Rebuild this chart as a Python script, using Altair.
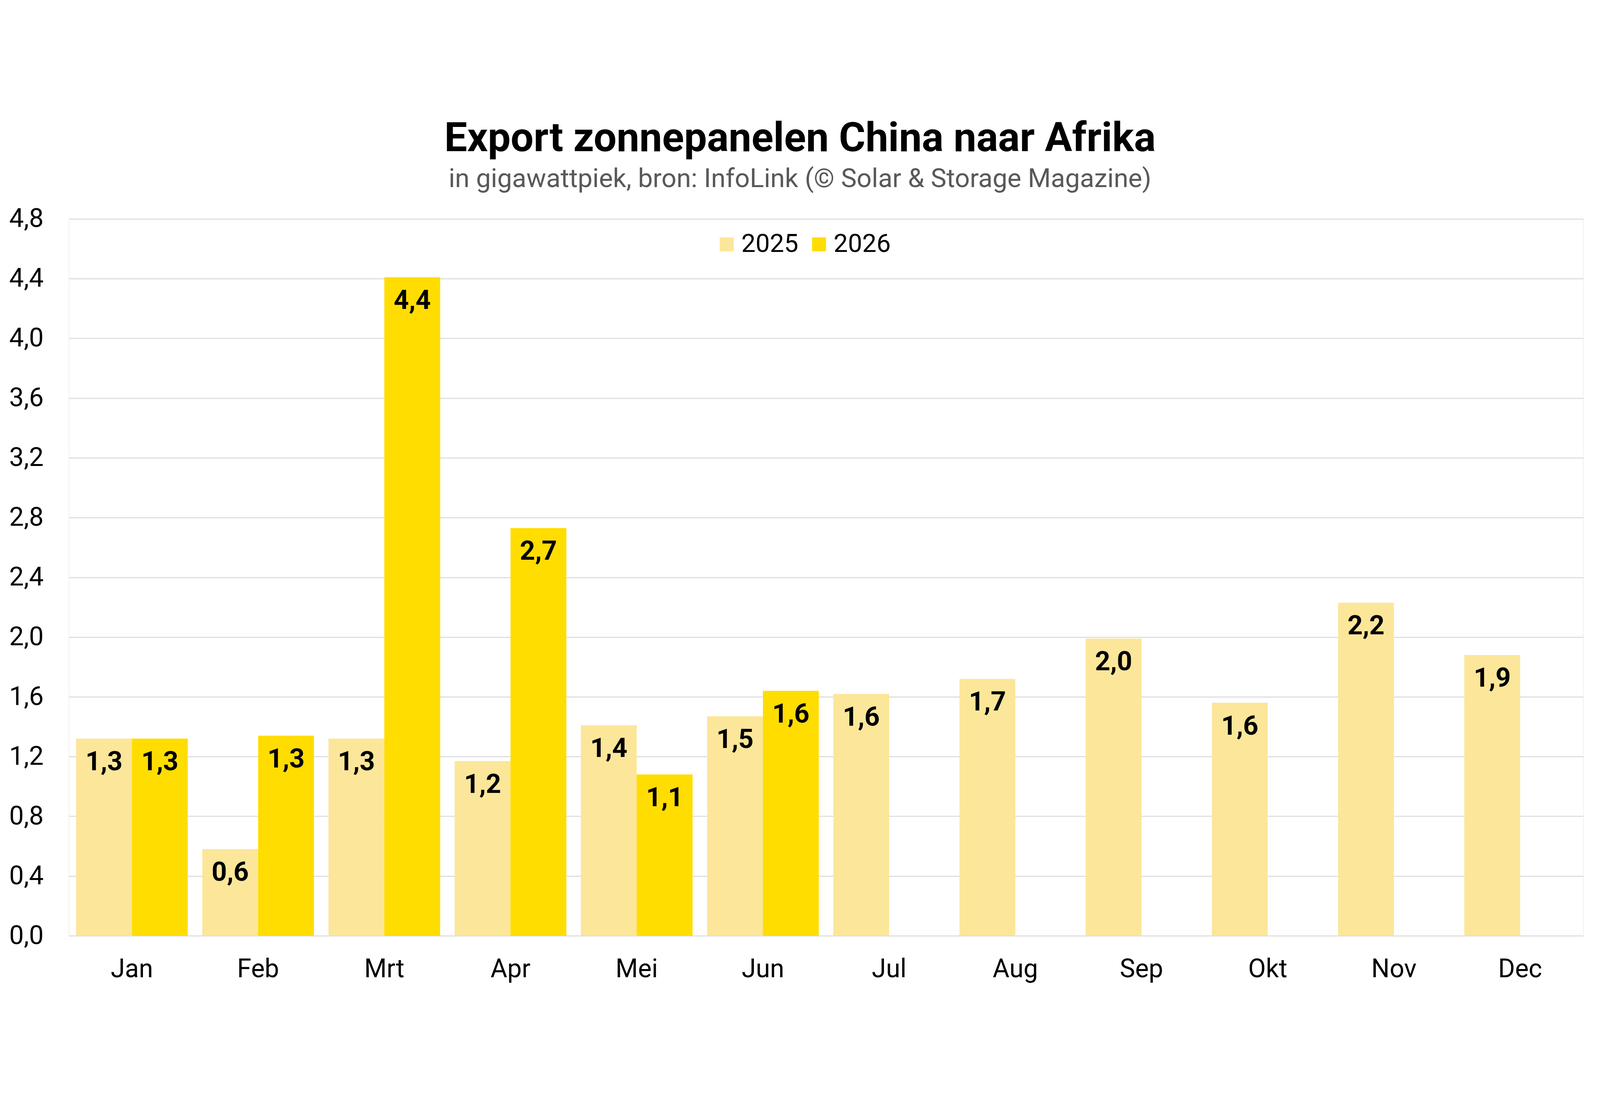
import altair as alt
import pandas as pd

months = ["Jan", "Feb", "Mrt", "Apr", "Mei", "Jun", "Jul", "Aug", "Sep", "Okt", "Nov", "Dec"]
years = ["2025", "2026"]
values_2025 = [1.32, 0.58, 1.32, 1.17, 1.41, 1.47, 1.62, 1.72, 1.99, 1.56, 2.23, 1.88]
values_2026 = [1.32, 1.34, 4.41, 2.73, 1.08, 1.64]
y_ticks = [0, 0.4, 0.8, 1.2, 1.6, 2.0, 2.4, 2.8, 3.2, 3.6, 4.0, 4.4, 4.8]
colors = ["#FCE699", "#FFDD00"]

rows = []
for m, v in zip(months, values_2025):
    rows.append({"month": m, "year": "2025", "value": v})
for m, v in zip(months, values_2026):
    rows.append({"month": m, "year": "2026", "value": v})
df = pd.DataFrame(rows)

FONT = "Roboto"

x_enc = alt.X(
    "month:N",
    sort=months,
    scale=alt.Scale(paddingInner=0.115, paddingOuter=0.0575),
    axis=alt.Axis(
        title=None, labelAngle=0, labelFontSize=81, labelFont=FONT, labelColor="black",
        labelPadding=66, ticks=False, domain=False, grid=False,
    ),
)
xoff_enc = alt.XOffset("year:N", scale=alt.Scale(domain=years, paddingInner=0, paddingOuter=0))
y_enc = alt.Y(
    "value:Q",
    scale=alt.Scale(domain=[0, 4.8], nice=False, zero=True),
    axis=alt.Axis(
        title=None, values=y_ticks, labelExpr="replace(format(datum.value, '.1f'), '.', ',')",
        labelFontSize=82, labelFont=FONT, labelColor="black", labelPadding=80,
        ticks=False, domain=False, grid=True, gridColor="#D9D9D9", gridWidth=3,
    ),
)

bars = alt.Chart(df).mark_bar().encode(
    x=x_enc,
    xOffset=xoff_enc,
    y=y_enc,
    color=alt.Color(
        "year:N",
        scale=alt.Scale(domain=years, range=colors),
        legend=alt.Legend(
            title=None, orient="none", legendX=2033, legendY=40, direction="horizontal",
            symbolType="square", symbolSize=1936, symbolStrokeWidth=0,
            labelFontSize=80, labelFont=FONT, labelColor="black", labelOffset=6,
            labelLimit=0, columnPadding=25, padding=0,
        ),
    ),
)

labels = alt.Chart(df).transform_calculate(
    label="replace(format(datum.value, '.1f'), '.', ',')"
).mark_text(
    baseline="alphabetic", dy=100, font=FONT, fontWeight="bold", fontSize=84, color="black"
).encode(
    x=alt.X("month:N", sort=months),
    xOffset=alt.XOffset("year:N"),
    y=alt.Y("value:Q"),
    text="label:N",
)

chart = alt.layer(bars, labels).properties(
    width=4772,
    height=2259,
    autosize=alt.AutoSizeParams(type="none"),
    padding={"left": 207, "top": 358, "right": 43, "bottom": 173},
    title=alt.TitleParams(
        text="Export zonnepanelen China naar Afrika",
        subtitle="in gigawattpiek, bron: InfoLink (© Solar & Storage Magazine)",
        anchor="middle", font=FONT, fontSize=128, fontWeight="bold", color="black",
        subtitleFont=FONT, subtitleFontSize=83, subtitleColor="#595959",
        subtitlePadding=20, offset=41, dx=-82,
    ),
).configure_view(strokeWidth=0).configure(background="white")

chart.save("out.html", embed_options={"renderer": "svg", "actions": False})
